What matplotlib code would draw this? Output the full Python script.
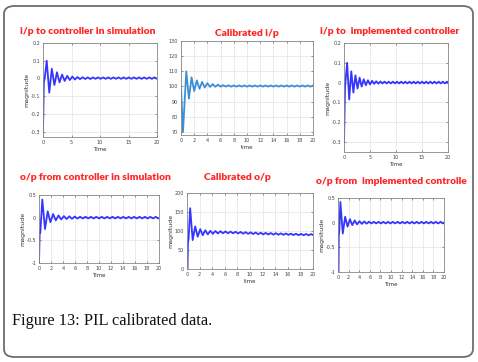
import numpy as np
import matplotlib.pyplot as plt
from matplotlib.patches import FancyBboxPatch

# titles of the six panels
titles = [
    "i/p to controller in simulation",
    "Calibrated i/p",
    "i/p to  implemented controller",
    "o/p from controller in simulation",
    "Calibrated o/p",
    "o/p from  implemented controlle",
]
caption = "Figure 13: PIL calibrated data."

# lead-in points (time, value) before the first overshoot
lead_t = [
    [0.0, 0.15, 0.3],
    [0.0, 0.3],
    [0.0, 0.2],
    [0.0, 0.12, 0.22],
    [0.0, 0.08, 0.15, 0.25],
    [0.0, 0.1, 0.15, 0.25],
]
lead_y = [
    [-0.3, -0.02, 0.0],
    [100.0, 70.0],
    [-0.3, -0.02],
    [-1.0, -0.3, -0.33],
    [0.0, 0.0, 70.0, 78.0],
    [-1.0, -1.0, -0.27, -0.15],
]
# time of first overshoot and half period of the ringing
first_peak = [0.65, 0.8, 0.6, 0.55, 0.5, 0.45]
half_period = [0.45, 0.4, 0.4, 0.45, 0.4, 0.45]

# successive extreme values of the ringing
peaks_1 = [0.1, -0.08, 0.055, -0.037, 0.035, -0.022, 0.022, -0.014, 0.015, -0.009,
           0.011, -0.006, 0.008, -0.004, 0.007, -0.003, 0.006, -0.003, 0.006, -0.002,
           0.006, -0.002, 0.006, -0.002, 0.006, -0.002, 0.006, -0.002, 0.006, -0.002,
           0.006, -0.002, 0.006, -0.002, 0.006, -0.002, 0.006, -0.002, 0.006, -0.002,
           0.006, -0.002, 0.006, -0.002, 0.006, -0.002]
peaks_2 = [110.0, 92.0, 106.0, 97.0, 104.0, 98.5, 103.0, 99.3, 102.2, 99.7,
           101.6, 99.8, 101.2, 99.9, 100.9, 99.9, 100.8, 99.9, 100.7, 99.9,
           100.7, 99.9, 100.7, 99.9, 100.7, 99.9, 100.7, 99.9, 100.7, 99.9,
           100.7, 99.9, 100.7, 99.9, 100.7, 99.9, 100.7, 99.9, 100.7, 99.9,
           100.7, 99.9, 100.7, 99.9, 100.7, 99.9, 100.7, 99.9, 100.7, 99.9]
peaks_3 = [0.1, -0.085, 0.057, -0.05, 0.037, -0.03, 0.025, -0.02, 0.017, -0.013,
           0.012, -0.009, 0.009, -0.006, 0.007, -0.005, 0.006, -0.004, 0.005, -0.004,
           0.005, -0.004, 0.005, -0.004, 0.005, -0.004, 0.005, -0.004, 0.005, -0.004,
           0.005, -0.004, 0.005, -0.004, 0.005, -0.004, 0.005, -0.004, 0.005, -0.004,
           0.005, -0.004, 0.005, -0.004, 0.005, -0.004, 0.005, -0.004, 0.005, -0.004]
peaks_4 = [0.4, -0.25, 0.14, -0.1, 0.08, -0.06, 0.05, -0.04, 0.035, -0.03,
           0.03, -0.025, 0.025, -0.02, 0.02, -0.018, 0.02, -0.016, 0.018, -0.016,
           0.018, -0.016, 0.018, -0.016, 0.018, -0.016, 0.018, -0.016, 0.018, -0.016,
           0.018, -0.016, 0.018, -0.016, 0.018, -0.016, 0.018, -0.016, 0.018, -0.016,
           0.018, -0.016, 0.018, -0.016, 0.018, -0.016]
peaks_5 = [160.0, 76.0, 112.0, 85.0, 105.0, 89.0, 102.0, 91.0, 100.5, 92.5,
           100.0, 93.5, 99.5, 94.0, 99.0, 94.0, 98.5, 94.0, 98.0, 93.5,
           97.5, 93.0, 97.0, 92.5, 96.5, 92.0, 96.0, 91.5, 95.5, 91.0,
           95.0, 90.8, 94.6, 90.5, 94.2, 90.2, 93.8, 89.9, 93.4, 89.6,
           93.0, 89.3, 92.7, 89.0, 92.4, 88.8, 92.2, 88.6, 92.0, 88.5]
peaks_6 = [0.42, -0.22, 0.12, -0.08, 0.07, -0.05, 0.045, -0.035, 0.03, -0.025,
           0.025, -0.02, 0.02, -0.016, 0.018, -0.015, 0.017, -0.015, 0.017, -0.015,
           0.017, -0.015, 0.017, -0.015, 0.017, -0.015, 0.017, -0.015, 0.017, -0.015,
           0.017, -0.015, 0.017, -0.015, 0.017, -0.015, 0.017, -0.015, 0.017, -0.015,
           0.017, -0.015, 0.017, -0.015, 0.017, -0.015]
peaks = [peaks_1, peaks_2, peaks_3, peaks_4, peaks_5, peaks_6]

# axis settings
ylims = [(-0.33, 0.2), (68, 130), (-0.35, 0.2), (-1, 0.5), (0, 200), (-1, 0.5)]
yticks = [
    [-0.3, -0.2, -0.1, 0, 0.1, 0.2],
    [70, 80, 90, 100, 110, 120, 130],
    [-0.3, -0.2, -0.1, 0, 0.1, 0.2],
    [-1, -0.5, 0, 0.5],
    [0, 50, 100, 150, 200],
    [-1, -0.5, 0, 0.5],
]
xticks = [
    [0, 5, 10, 15, 20],
    [0, 2, 4, 6, 8, 10, 12, 14, 16, 18, 20],
    [0, 5, 10, 15, 20],
    [0, 2, 4, 6, 8, 10, 12, 14, 16, 18, 20],
    [0, 2, 4, 6, 8, 10, 12, 14, 16, 18, 20],
    [0, 2, 4, 6, 8, 10, 12, 14, 16, 18, 20],
]
xlabels = ["Time", "time", "Time", "Time", "time", "Time"]
ylabels = ["magnitude", "", "magnitude", "magnitude", "magnitude", "magnitude"]

W, H = 478, 362
# axes boxes in pixels: left, top, right, bottom
boxes = [
    (43, 43, 157, 137),
    (181, 41, 313, 135),
    (344, 43, 448, 152),
    (39, 195, 159, 263),
    (187, 193, 313, 269),
    (338, 198, 444, 272),
]
title_pos = [(88, 32), (247, 33), (390, 32), (95, 177), (237, 177), (391, 181)]
line_colors = ["#3535ff", "#3c8fd6", "#3535ff", "#3535ff", "#3535ff", "#3535ff"]


def fmt(v):
    if float(v).is_integer():
        return str(int(v))
    return "{:g}".format(v)


fig = plt.figure(figsize=(W / 100, H / 100), dpi=100)

frame = FancyBboxPatch((4 / W, 5 / H), 469 / W, 351 / H,
                       boxstyle="round,pad=0,rounding_size=0.022",
                       transform=fig.transFigure, facecolor="none",
                       edgecolor="#6e6e6e", linewidth=1.3, zorder=5)
fig.patches.append(frame)

for i in range(6):
    l, t, r, b = boxes[i]
    ax = fig.add_axes([l / W, 1 - b / H, (r - l) / W, (b - t) / H])
    tp = first_peak[i] + half_period[i] * np.arange(len(peaks[i]))
    tt = np.concatenate([lead_t[i], tp])
    yy = np.concatenate([lead_y[i], peaks[i]])
    ax.plot(tt, yy, color=line_colors[i], lw=1.3)
    ax.set_xlim(0, 20)
    ax.set_ylim(*ylims[i])
    ax.set_xticks(xticks[i])
    ax.set_yticks(yticks[i])
    ax.set_yticklabels([fmt(v) for v in yticks[i]])
    ax.tick_params(labelsize=3.5, length=1.5, width=0.4, direction="in",
                   top=True, right=True, pad=2, colors="#444444")
    ax.grid(True, color="#e3e3e3", lw=0.5)
    for s in ax.spines.values():
        s.set_color("#888888")
        s.set_linewidth(0.6)
    ax.set_xlabel(xlabels[i], fontsize=4, labelpad=1.5, color="#333333")
    if ylabels[i]:
        ax.set_ylabel(ylabels[i], fontsize=4.5, labelpad=1, color="#333333")
    tx, ty = title_pos[i]
    fig.text(tx / W, 1 - ty / H, titles[i], ha="center", va="center",
             color="#ff2626", fontsize=7.4, fontweight="heavy", family="Lato")

fig.text(12 / W, 1 - 321 / H, caption, ha="left", va="center",
         fontsize=11.8, family="Liberation Serif", color="#111111")

fig.savefig("out.png", dpi=100)
